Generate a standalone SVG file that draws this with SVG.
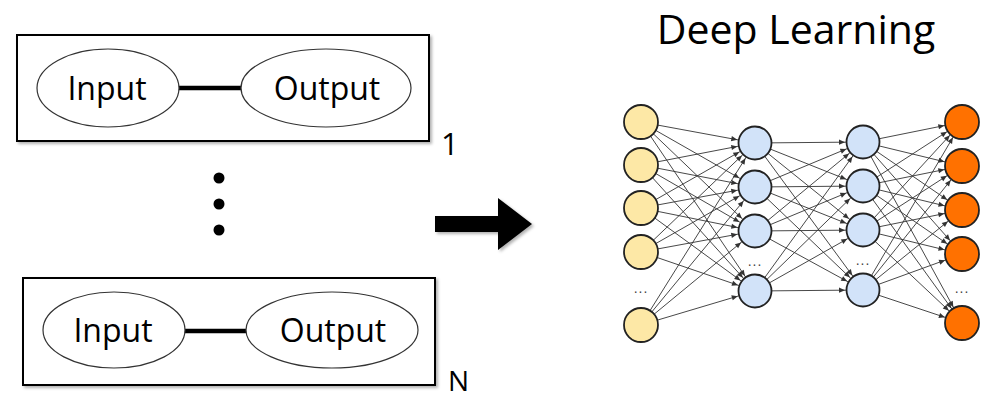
<svg xmlns="http://www.w3.org/2000/svg" width="990" height="400" viewBox="0 0 990 400">
<style>
.box{fill:#fff;stroke:#000;stroke-width:2}
.ell{fill:#fff;stroke:#333;stroke-width:1.2}
.bar{stroke:#000;stroke-width:4.5}
.lbl{font-family:"Open Sans","Liberation Sans",sans-serif;font-size:32px;fill:#000;text-anchor:middle}
.idx{font-family:"Open Sans","Liberation Sans",sans-serif;font-size:31px;fill:#000}
.title{font-family:"Open Sans","Liberation Sans",sans-serif;font-size:41px;fill:#000;text-anchor:middle}
.e{stroke:#333;stroke-width:0.9;fill:none;marker-end:url(#ah)}
.yl{fill:#FDE8A6;stroke:#222;stroke-width:1.8}
.bl{fill:#D2E3F9;stroke:#222;stroke-width:1.8}
.or{fill:#FF7100;stroke:#222;stroke-width:1.8}
.dd{font-family:"Liberation Sans",sans-serif;font-size:14px;fill:#444;text-anchor:middle;letter-spacing:1px}
</style>
<defs>
<filter id="sh" x="-10%" y="-10%" width="120%" height="130%">
<feDropShadow dx="2" dy="2" stdDeviation="1.5" flood-color="#000" flood-opacity="0.3"/>
</filter>
<marker id="ah" markerUnits="userSpaceOnUse" markerWidth="10" markerHeight="10" refX="18" refY="0" orient="auto" overflow="visible">
<path d="M-6,-2.6 L0,0 L-6,2.6 z" fill="#333"/>
</marker>
</defs>

<g id="pair1">
<rect class="box" x="17" y="35" width="412" height="106" filter="url(#sh)"/>
<line class="bar" x1="178" y1="88" x2="242" y2="88"/>
<ellipse class="ell" cx="108" cy="88" rx="71" ry="39"/>
<ellipse class="ell" cx="326" cy="88" rx="85" ry="39"/>
<text class="lbl" x="107" y="100">Input</text>
<text class="lbl" x="327" y="100">Output</text>
<text class="idx" x="441" y="155">1</text>
</g>

<g id="ellipsis">
<circle cx="219" cy="178" r="5.5" fill="#000"/>
<circle cx="219" cy="204" r="5.5" fill="#000"/>
<circle cx="219" cy="230" r="5.5" fill="#000"/>
</g>

<g id="pairN">
<rect class="box" x="23" y="278" width="412" height="107" filter="url(#sh)"/>
<line class="bar" x1="184" y1="331" x2="248" y2="331"/>
<ellipse class="ell" cx="114" cy="330" rx="71" ry="38"/>
<ellipse class="ell" cx="332" cy="330" rx="86" ry="38"/>
<text class="lbl" x="113" y="342">Input</text>
<text class="lbl" x="333" y="342">Output</text>
<text class="idx" x="448" y="391" style="font-size:28px">N</text>
</g>

<g id="bigArrow">
<path d="M435,216 L498,216 L498,198 L532,224 L498,250 L498,232 L435,232 z" fill="#000" filter="url(#sh)"/>
</g>

<g id="title">
<text class="title" x="796" y="44">Deep Learning</text>
</g>

<g id="connectors">
<path class="e" d="M641,122 L755,143"/><path class="e" d="M641,122 L755,187"/><path class="e" d="M641,122 L755,231"/><path class="e" d="M641,122 L755,291"/>
<path class="e" d="M641,165 L755,143"/><path class="e" d="M641,165 L755,187"/><path class="e" d="M641,165 L755,231"/><path class="e" d="M641,165 L755,291"/>
<path class="e" d="M641,208 L755,143"/><path class="e" d="M641,208 L755,187"/><path class="e" d="M641,208 L755,231"/><path class="e" d="M641,208 L755,291"/>
<path class="e" d="M641,252 L755,143"/><path class="e" d="M641,252 L755,187"/><path class="e" d="M641,252 L755,231"/><path class="e" d="M641,252 L755,291"/>
<path class="e" d="M641,325 L755,143"/><path class="e" d="M641,325 L755,187"/><path class="e" d="M641,325 L755,231"/><path class="e" d="M641,325 L755,291"/>

<path class="e" d="M755,143 L863,142"/><path class="e" d="M755,143 L863,186"/><path class="e" d="M755,143 L863,230"/><path class="e" d="M755,143 L863,290"/>
<path class="e" d="M755,187 L863,142"/><path class="e" d="M755,187 L863,186"/><path class="e" d="M755,187 L863,230"/><path class="e" d="M755,187 L863,290"/>
<path class="e" d="M755,231 L863,142"/><path class="e" d="M755,231 L863,186"/><path class="e" d="M755,231 L863,230"/><path class="e" d="M755,231 L863,290"/>
<path class="e" d="M755,291 L863,142"/><path class="e" d="M755,291 L863,186"/><path class="e" d="M755,291 L863,230"/><path class="e" d="M755,291 L863,290"/>

<path class="e" d="M863,142 L962,122"/><path class="e" d="M863,142 L962,166"/><path class="e" d="M863,142 L962,210"/><path class="e" d="M863,142 L962,254"/><path class="e" d="M863,142 L962,323"/>
<path class="e" d="M863,186 L962,122"/><path class="e" d="M863,186 L962,166"/><path class="e" d="M863,186 L962,210"/><path class="e" d="M863,186 L962,254"/><path class="e" d="M863,186 L962,323"/>
<path class="e" d="M863,230 L962,122"/><path class="e" d="M863,230 L962,166"/><path class="e" d="M863,230 L962,210"/><path class="e" d="M863,230 L962,254"/><path class="e" d="M863,230 L962,323"/>
<path class="e" d="M863,290 L962,122"/><path class="e" d="M863,290 L962,166"/><path class="e" d="M863,290 L962,210"/><path class="e" d="M863,290 L962,254"/><path class="e" d="M863,290 L962,323"/>
</g>

<g id="inputLayer">
<circle class="yl" cx="641" cy="122" r="17"/>
<circle class="yl" cx="641" cy="165" r="17"/>
<circle class="yl" cx="641" cy="208" r="17"/>
<circle class="yl" cx="641" cy="252" r="17"/>
<text class="dd" x="641" y="293">...</text>
<circle class="yl" cx="641" cy="325" r="17"/>
</g>

<g id="hiddenLayer1">
<circle class="bl" cx="755" cy="143" r="16.5"/>
<circle class="bl" cx="755" cy="187" r="16.5"/>
<circle class="bl" cx="755" cy="231" r="16.5"/>
<text class="dd" x="755" y="266">...</text>
<circle class="bl" cx="755" cy="291" r="16.5"/>
</g>

<g id="hiddenLayer2">
<circle class="bl" cx="863" cy="142" r="16.5"/>
<circle class="bl" cx="863" cy="186" r="16.5"/>
<circle class="bl" cx="863" cy="230" r="16.5"/>
<text class="dd" x="863" y="265">...</text>
<circle class="bl" cx="863" cy="290" r="16.5"/>
</g>

<g id="outputLayer">
<circle class="or" cx="962" cy="122" r="17"/>
<circle class="or" cx="962" cy="166" r="17"/>
<circle class="or" cx="962" cy="210" r="17"/>
<circle class="or" cx="962" cy="254" r="17"/>
<text class="dd" x="962" y="293">...</text>
<circle class="or" cx="962" cy="323" r="17"/>
</g>
</svg>
